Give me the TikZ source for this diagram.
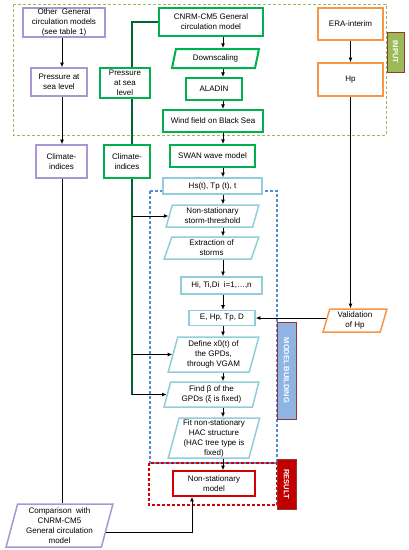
\documentclass[tikz,border=0pt]{standalone}
\usepackage{fontspec}
\setmainfont{Liberation Sans}
\usepackage{tikz}
\usetikzlibrary{shapes.geometric, arrows.meta, positioning}

\definecolor{gcol}{RGB}{0,176,80}
\definecolor{dgcol}{RGB}{0,100,50}
\definecolor{pcol}{RGB}{170,150,210}
\definecolor{ocol}{RGB}{247,150,70}
\definecolor{bcol}{RGB}{146,205,220}
\definecolor{dbcol}{RGB}{85,142,213}
\definecolor{olcol}{RGB}{155,187,89}
\definecolor{rcol}{RGB}{214,0,0}
\definecolor{mbcol}{RGB}{141,180,226}
\definecolor{rescol}{RGB}{192,0,0}
\definecolor{tcol}{RGB}{149,55,53}

\begin{document}
\begin{tikzpicture}[
  x=1pt, y=-1pt,
  font=\fontsize{8}{10}\selectfont,
  box/.style={rectangle, draw, fill=white, align=center, inner sep=1pt, line width=1.5pt},
  gbox/.style={box, draw=gcol, line width=2pt},
  pbox/.style={box, draw=pcol},
  obox/.style={box, draw=ocol},
  bbox/.style={box, draw=bcol},
  rbox/.style={box, draw=rcol},
  para/.style={trapezium, trapezium left angle=76, trapezium right angle=104, trapezium stretches=true},
  sidetag/.style={rectangle, rotate=-90, draw=tcol, line width=1pt, text=white, inner sep=0pt,
    font=\fontsize{7.5}{9}\selectfont\bfseries},
  dashframe/.style={dash pattern=on 3pt off 2pt},
  arr/.style={-{Latex[length=1.6mm, width=1.4mm]}, line width=0.9pt},
  gln/.style={draw=dgcol, line width=1.2pt}
]
\useasboundingbox (0,0) rectangle (409,550);

% frames
\draw[dashframe, draw=olcol, line width=1pt] (13,4) rectangle (386,135);
\draw[dashframe, draw=dbcol, line width=1.2pt] (150,191) rectangle (277,463);
\draw[dashframe, draw=rcol, line width=1.5pt] (149,463) rectangle (277,505);

% other models
\node[pbox, minimum width=82pt, minimum height=29pt] (ogcm) at (64,22.5) {Other\ \ General\\circulation models\\(see table 1)};
\node[pbox, minimum width=56pt, minimum height=28pt] (pslp) at (59,82) {Pressure at\\sea level};
\node[pbox, minimum width=51pt, minimum height=33pt] (cip) at (61.5,161.5) {Climate-\\indices};
\node[pbox, para, minimum width=107pt, minimum height=43pt] (comp) at (59.5,525.5) {Comparison\ \ with\\CNRM-CM5\\General circulation\\model};

% CNRM chain
\node[gbox, minimum width=104pt, minimum height=28pt] (cnrm) at (211,22) {CNRM-CM5 General\\circulation model};
\node[gbox, minimum width=50pt, minimum height=30pt] (pslg) at (125,83) {Pressure\\at sea\\level};
\node[gbox, minimum width=46pt, minimum height=33pt] (cig) at (127,161.5) {Climate-\\indices};
\node[gbox, para, minimum width=87pt, minimum height=19pt] (down) at (215.5,58.5) {Downscaling};
\node[gbox, minimum width=56pt, minimum height=22pt] (aladin) at (214,89) {ALADIN};
\node[gbox, minimum width=100pt, minimum height=22pt] (wind) at (213,121) {Wind field on Black Sea};
\node[gbox, minimum width=85pt, minimum height=22pt] (swan) at (212.5,156) {SWAN wave model};

% ERA chain
\node[obox, minimum width=65pt, minimum height=32pt] (era) at (350.5,24) {ERA-interim};
\node[obox, minimum width=65pt, minimum height=33pt] (hp) at (350.5,79.5) {Hp};
\node[obox, para, minimum width=64pt, minimum height=23pt] (valid) at (355,320.5) {Validation\\of Hp};

% model building
\node[bbox, minimum width=99pt, minimum height=16pt] (hs) at (212.5,186) {Hs(t), Tp (t), t};
\node[bbox, para, minimum width=93pt, minimum height=22pt] (nst) at (212.5,216) {Non-stationary\\storm-threshold};
\node[bbox, para, minimum width=95pt, minimum height=22pt] (ext) at (211.5,248) {Extraction of\\storms};
\node[bbox, minimum width=81pt, minimum height=17pt] (hi) at (221.5,285.5) {Hi, Ti,Di\ \ i=1,\ldots,n};
\node[bbox, minimum width=66pt, minimum height=15pt] (ehp) at (222,318) {E, Hp, Tp, D};
\node[bbox, para, minimum width=91pt, minimum height=35pt] (def) at (213.5,354.5) {Define x0(t) of\\the GPDs,\\through VGAM};
\node[bbox, para, minimum width=95pt, minimum height=25pt] (fnd) at (211.5,394.5) {Find β of the\\GPDs (ξ is fixed)};
\node[bbox, para, minimum width=92pt, minimum height=40pt] (fit) at (214,438) {Fit non-stationary\\HAC structure\\(HAC tree type is\\fixed)};
\node[rbox, minimum width=82pt, minimum height=25pt] (nsm) at (214,483.5) {Non-stationary\\model};

% side tags
\node[sidetag, fill=olcol, minimum width=40pt, minimum height=17pt] (tagin) at (395.5,52) {INPUT};
\node[sidetag, fill=mbcol, minimum width=97pt, minimum height=19pt] (tagmb) at (286.5,370.5) {MODEL BUILDING};
\node[sidetag, fill=rescol, minimum width=50pt, minimum height=19pt] (tagres) at (286.5,484) {RESULT};

% connectors
\coordinate (sp) at (223,0);
\coordinate (gx) at (132,0);
\coordinate (px) at (62,0);
\coordinate (cx) at (192,0);

\draw[arr] (cnrm.south -| sp) -- (down.north -| sp);
\draw[arr] (down.south -| sp) -- (aladin.north -| sp);
\draw[arr] (aladin.south -| sp) -- (wind.north -| sp);
\draw[arr] (wind.south -| sp) -- (swan.north -| sp);
\draw[arr] (swan.south -| sp) -- (hs.north -| sp);
\draw[arr] (hs.south -| sp) -- (nst.north -| sp);
\draw[arr] (nst.south -| sp) -- (ext.north -| sp);
\draw[arr] (ext.south -| sp) -- (hi.north -| sp);
\draw[arr] (hi.south -| sp) -- (ehp.north -| sp);
\draw[arr] (ehp.south -| sp) -- (def.north -| sp);
\draw[arr] (def.south -| sp) -- (fnd.north -| sp);
\draw[arr] (fnd.south -| sp) -- (fit.north -| sp);
\draw[arr] (fit.south -| sp) -- (nsm.north -| sp);

\draw[gln] (cnrm.west) -| (pslg.north -| gx);
\draw[gln] (pslg.south -| gx) -- (cig.north -| gx);
\draw[gln] (cig.south -| gx) -- (gx |- fnd.west);
\draw[arr] (gx |- nst.west) -- (nst.west);
\draw[arr] (gx |- def.west) -- (def.west);
\draw[arr] (gx |- fnd.west) -- (fnd.west);

\draw[arr] (ogcm.south -| px) -- (pslp.north -| px);
\draw[arr] (pslp.south -| px) -- (cip.north -| px);
\draw[line width=0.9pt] (cip.south -| px) -- (comp.north -| px);
\draw[arr] (comp.-8) -| (nsm.south -| cx);

\draw[arr] (era) -- (hp);
\draw[arr] (hp.south) -- (hp.south |- valid.north);
\draw[arr] (ehp.east -| valid.west) -- (ehp.east);
\end{tikzpicture}
\end{document}
